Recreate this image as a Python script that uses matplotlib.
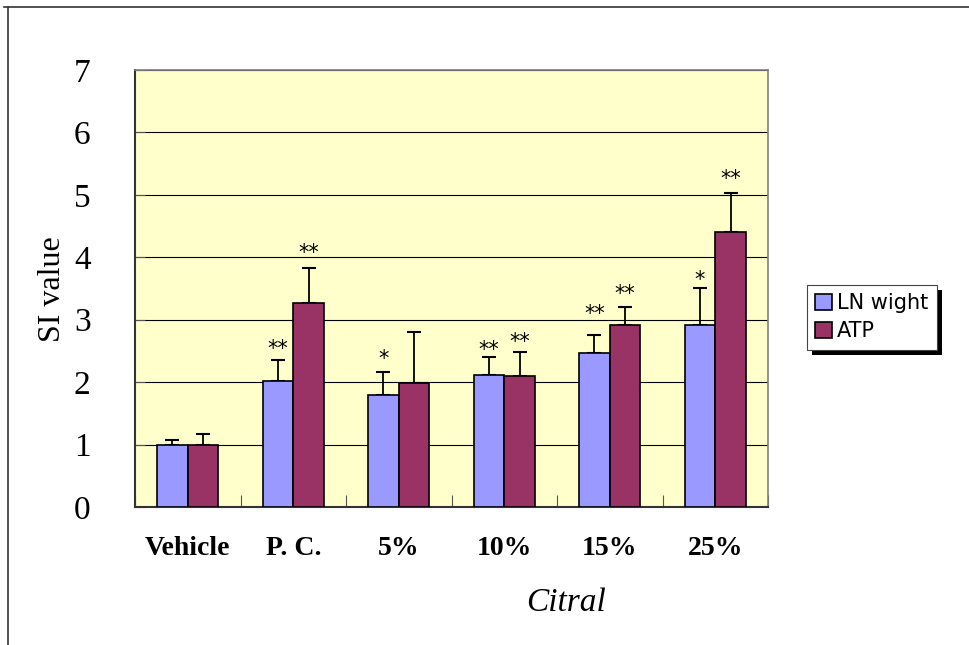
import matplotlib
matplotlib.use('Agg')
import matplotlib.pyplot as plt
import matplotlib.transforms as mtransforms
import matplotlib.patheffects as pe
from matplotlib.lines import Line2D
import numpy as np

# 데이터
categories = ['Vehicle', 'P. C.', '5%', '10%', '15%', '25%']
ln_wight = [1.00, 2.02, 1.80, 2.12, 2.47, 2.92]
ln_err = [0.07, 0.33, 0.37, 0.28, 0.29, 0.59]
atp = [1.00, 3.26, 1.98, 2.10, 2.91, 4.40]
atp_err = [0.17, 0.57, 0.82, 0.38, 0.29, 0.63]

# 유의성 표시 (별표 위치)
ln_stars = ['', '**', '*', '**', '**', '*']
ln_star_y = [0, 2.61, 2.45, 2.60, 3.17, 3.72]
atp_stars = ['', '**', '', '**', '**', '**']
atp_star_y = [0, 4.15, 0, 2.73, 3.49, 5.34]

y_ticks = [0, 1, 2, 3, 4, 5, 6, 7]

serif = 'Liberation Serif'
sans = ['DejaVu Sans']

fig = plt.figure(figsize=(9.7, 6.45), dpi=100)
ax = fig.add_axes([0.1392, 0.214, 0.6526, 0.6775])
ax.set_facecolor('#FFFFCC')

x = np.arange(len(categories))
w = 0.29
ax.bar(x - w / 2, ln_wight, w, color='#9999FF', edgecolor='black', linewidth=1.2,
       label='LN wight', zorder=3)
ax.bar(x + w / 2, atp, w, color='#993366', edgecolor='black', linewidth=1.2,
       label='ATP', zorder=3)
ax.errorbar(x - w / 2, ln_wight, yerr=[np.zeros(len(x)), ln_err], fmt='none',
            ecolor='black', elinewidth=1.3, capsize=4.7, capthick=1.5, zorder=2)
ax.errorbar(x + w / 2, atp, yerr=[np.zeros(len(x)), atp_err], fmt='none',
            ecolor='black', elinewidth=1.3, capsize=4.7, capthick=1.5, zorder=2)

# 별표 텍스트
trans = mtransforms.offset_copy(ax.transData, fig=fig, y=-8, units='points')
for i in range(len(x)):
    if ln_stars[i]:
        ax.text(x[i] - w / 2, ln_star_y[i], ln_stars[i], ha='center', va='baseline',
                fontsize=15, family=sans, transform=trans, zorder=4)
    if atp_stars[i]:
        ax.text(x[i] + w / 2, atp_star_y[i], atp_stars[i], ha='center', va='baseline',
                fontsize=15, family=sans, transform=trans, zorder=4)

ax.set_xlim(-0.5, 5.5)
ax.set_ylim(0, 7)
ax.set_yticks(y_ticks)
ax.set_yticklabels([str(t) for t in y_ticks], fontsize=24, family=serif)
ax.yaxis.grid(True, color='black', linewidth=0.8, zorder=0)
ax.set_axisbelow(True)
ax.tick_params(axis='y', direction='in', length=7, pad=32, color='#555555')

# x축: 경계 눈금 + 가운데 라벨
ax.set_xticks(np.arange(-0.5, 6.0, 1.0))
ax.set_xticklabels([])
ax.set_xticks(x, minor=True)
ax.set_xticklabels(categories, minor=True, fontsize=20, family=serif, fontweight='bold')
ax.tick_params(axis='x', which='major', direction='in', length=9, color='#555555')
ax.tick_params(axis='x', which='minor', length=0, pad=21)

for s in ['top', 'right']:
    ax.spines[s].set_color('#808080')
    ax.spines[s].set_linewidth(1.2)
for s in ['left', 'bottom']:
    ax.spines[s].set_color('#333333')
    ax.spines[s].set_linewidth(1.5)

fig.text(53 / 970, 1 - 289 / 645, 'SI value', rotation=90, ha='center', va='center',
         fontsize=23, family=serif)
fig.text(566 / 970, 1 - 603 / 645, 'Citral', ha='center', va='center',
         fontsize=24, family=serif, style='italic')

leg = fig.legend(loc='center left', bbox_to_anchor=(807 / 970, 1 - 317 / 645),
                 prop={'family': sans, 'size': 15}, fancybox=False, shadow=False,
                 framealpha=1, facecolor='white',
                 handlelength=0.8, handleheight=0.8, handletextpad=0.25,
                 borderpad=0.4, labelspacing=0.4, borderaxespad=0)
frame = leg.get_frame()
frame.set_edgecolor('#444444')
frame.set_linewidth(0.8)
frame.set_path_effects([pe.SimplePatchShadow(offset=(3.6, -3.6), shadow_rgbFace='black', alpha=1),
                        pe.Normal()])

# 바깥 테두리 (위, 왼쪽)
fig.add_artist(Line2D([4 / 970, 1.0], [1 - 7 / 645, 1 - 7 / 645], color='#333333',
                      linewidth=1.2, transform=fig.transFigure))
fig.add_artist(Line2D([8 / 970, 8 / 970], [0, 1 - 7 / 645], color='#333333',
                      linewidth=1.2, transform=fig.transFigure))

fig.savefig('out.png', dpi=100)
